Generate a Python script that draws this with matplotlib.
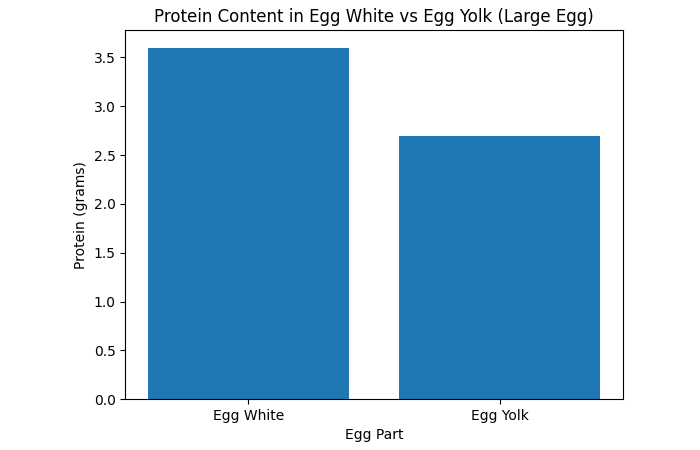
import matplotlib
matplotlib.use('Agg')
import matplotlib.pyplot as plt

egg_parts = ['Egg White', 'Egg Yolk']
protein_grams = [3.6, 2.7]

plt.figure(figsize=(7, 4.5), dpi=100)
plt.subplots_adjust(left=0.179, right=0.89, top=0.933, bottom=0.113)
plt.bar(egg_parts, protein_grams, color='#1f77b4')
plt.title('Protein Content in Egg White vs Egg Yolk (Large Egg)')
plt.xlabel('Egg Part')
plt.ylabel('Protein (grams)')
plt.savefig('out.png')
